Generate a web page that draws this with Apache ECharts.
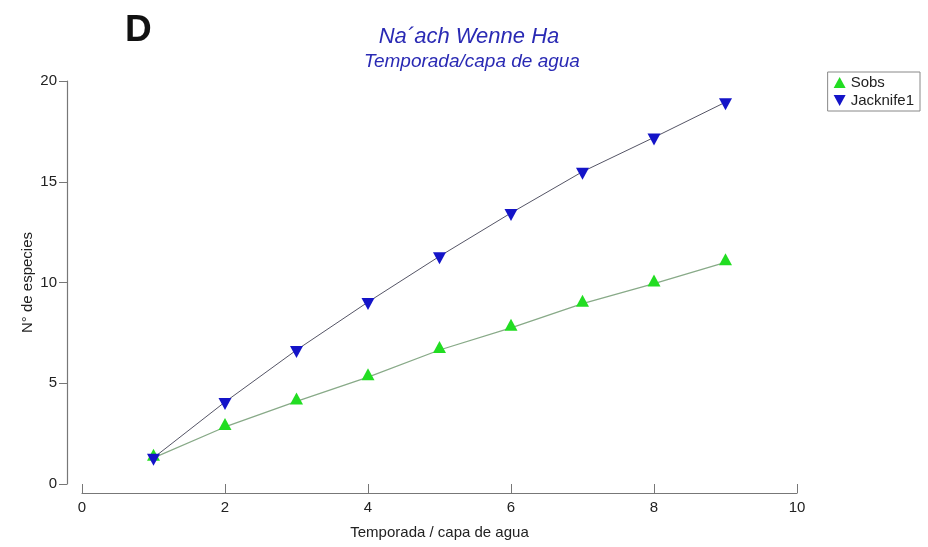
<!DOCTYPE html>
<html>
<head>
<meta charset="utf-8">
<script src="https://cdn.jsdelivr.net/npm/echarts@6/dist/echarts.min.js"></script>
<style>html,body{margin:0;padding:0;background:#fff}#c{width:928px;height:547px}</style>
</head>
<body>
<div id="c"></div>
<script>
const xValues = [1, 2, 3, 4, 5, 6, 7, 8, 9];
const sobs = [1.3, 2.83, 4.1, 5.3, 6.65, 7.75, 8.95, 9.95, 11.0];
const jack1 = [1.3, 4.07, 6.65, 9.03, 11.3, 13.45, 15.5, 17.2, 18.95];
const seriesNames = ['Sobs', 'Jacknife1'];
const xTicks = [0, 2, 4, 6, 8, 10];
const yTicks = [0, 5, 10, 15, 20];

const upTri = 'path://M5,0 L10,9 L0,9 Z';
const downTri = 'path://M0,0 L10,0 L5,9 Z';
const font = 'Liberation Sans, Arial, sans-serif';

const chart = echarts.init(document.getElementById('c'), null, {renderer: 'canvas'});
chart.setOption({
  backgroundColor: '#ffffff',
  animation: false,
  title: [
    {text: 'D', left: 120, top: 7, textStyle: {fontFamily: font, fontSize: 37, fontWeight: 'bold', color: '#111'}},
    {text: 'Na\u00b4ach Wenne Ha', left: 464, top: 21, textAlign: 'center',
     textStyle: {fontFamily: font, fontSize: 22, fontStyle: 'italic', fontWeight: 'normal', color: '#2a2ab4'}},
    {text: 'Temporada/capa de agua', left: 467, top: 47, textAlign: 'center',
     textStyle: {fontFamily: font, fontSize: 19, fontStyle: 'italic', fontWeight: 'normal', color: '#2a2ab4'}}
  ],
  legend: {
    right: 8, top: 72, orient: 'vertical',
    borderColor: '#888', borderWidth: 1, padding: [3, 6, 3, 6],
    itemWidth: 12, itemHeight: 12, itemGap: 3,
    textStyle: {fontFamily: font, fontSize: 15, color: '#222'},
    data: [
      {name: seriesNames[0], icon: upTri},
      {name: seriesNames[1], icon: downTri}
    ]
  },
  grid: {left: 82, right: 131, top: 81, bottom: 63, containLabel: false},
  xAxis: {
    type: 'value', min: xTicks[0], max: xTicks[xTicks.length - 1], interval: 2,
    offset: 9,
    name: 'Temporada / capa de agua', nameLocation: 'middle', nameGap: 32,
    nameTextStyle: {fontFamily: font, fontSize: 15, color: '#222'},
    axisLine: {show: true, onZero: false, lineStyle: {color: '#777', width: 1.2}},
    axisTick: {show: true, inside: true, length: 9, lineStyle: {color: '#777'}},
    axisLabel: {fontFamily: font, fontSize: 15, color: '#222', margin: 7},
    splitLine: {show: false}
  },
  yAxis: {
    type: 'value', min: yTicks[0], max: yTicks[yTicks.length - 1], interval: 5,
    offset: 15,
    name: 'N\u00b0 de especies', nameLocation: 'middle', nameGap: 32, nameRotate: 90,
    nameMoveOverlap: false,
    nameTextStyle: {fontFamily: font, fontSize: 15, color: '#222'},
    axisLine: {show: true, onZero: false, lineStyle: {color: '#777', width: 1.2}},
    axisTick: {show: true, inside: false, length: 8, lineStyle: {color: '#777'}},
    axisLabel: {fontFamily: font, fontSize: 15, color: '#222', margin: 10},
    splitLine: {show: false}
  },
  series: [
    {
      name: seriesNames[0], type: 'line',
      data: xValues.map((x, i) => [x, sobs[i]]),
      symbol: upTri, symbolSize: [13, 12], symbolOffset: [0, -3],
      itemStyle: {color: '#22dd22'},
      lineStyle: {color: '#88aa88', width: 1.3}
    },
    {
      name: seriesNames[1], type: 'line',
      data: xValues.map((x, i) => [x, jack1[i]]),
      symbol: downTri, symbolSize: [13, 12], symbolOffset: [0, 2],
      itemStyle: {color: '#1414c8'},
      lineStyle: {color: '#555566', width: 1}
    }
  ]
});
</script>
</body>
</html>
